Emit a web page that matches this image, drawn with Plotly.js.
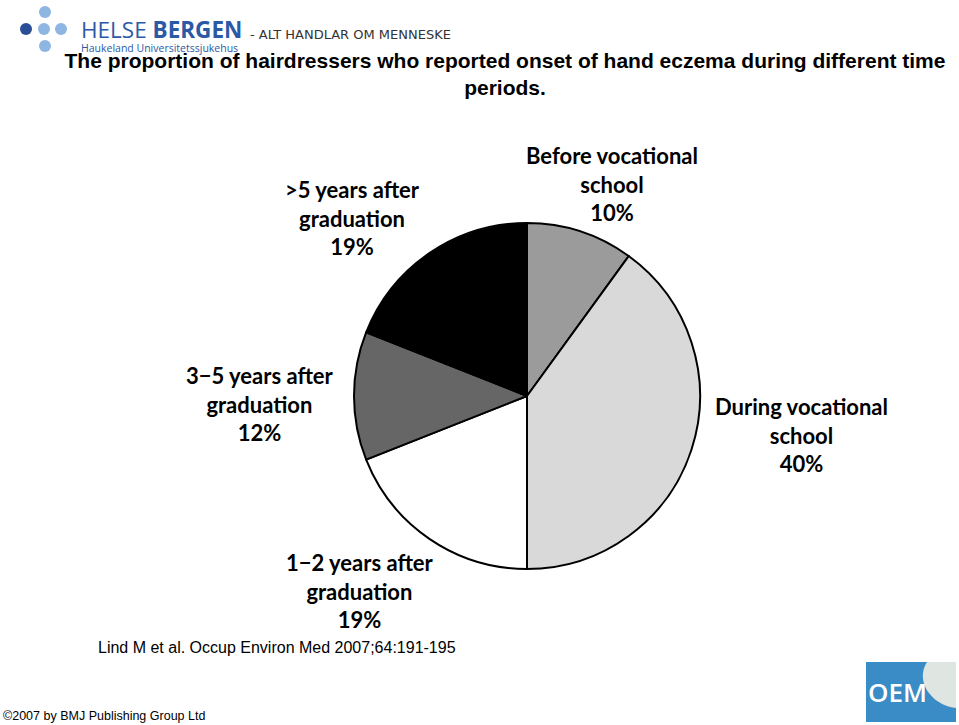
<!DOCTYPE html>
<html>
<head>
<meta charset="utf-8">
<script src="https://cdn.plot.ly/plotly-3.0.1.min.js"></script>
<style>html,body{margin:0;padding:0;background:#fff;}#chart{width:959px;height:725px;}</style>
</head>
<body>
<div id="chart"></div>
<script>
// ---- data ----
const categories = ["Before vocational school", "During vocational school", "1\u22122 years after graduation", "3\u22125 years after graduation", ">5 years after graduation"];
const labelLines = [["Before vocational", "school"], ["During vocational", "school"], ["1\u22122 years after", "graduation"], ["3\u22125 years after", "graduation"], [">5 years after", "graduation"]];
const values = [10, 40, 19, 12, 19];
const sliceColors = ["#9b9b9b", "#d9d9d9", "#ffffff", "#666666", "#000000"];
const titleText = "The proportion of hairdressers who reported onset of hand eczema during different time<br>periods.";
const citation = "Lind M et al. Occup Environ Med 2007;64:191-195";
const copyright = "\u00a92007 by BMJ Publishing Group Ltd";

// ---- layout helpers (pixel -> paper) ----
const W = 959, H = 725;
const px = x => x / W;
const py = y => 1 - y / H;

const labelPos = [[612, 184], [801, 435], [360, 591], [260, 404], [352, 218]];

const annotations = [];
categories.forEach((c, i) => {
  annotations.push({
    xref: "paper", yref: "paper", x: px(labelPos[i][0]), y: py(labelPos[i][1]),
    xanchor: "center", yanchor: "middle", showarrow: false, align: "center",
    text: labelLines[i].join("<br>") + "<br>" + values[i] + "%",
    font: {family: "Lato, 'Open Sans', sans-serif", size: 22, color: "#000", weight: "bold"}
  });
});
annotations.push({xref: "paper", yref: "paper", x: px(96), y: py(647), xanchor: "left", yanchor: "middle", showarrow: false,
  text: citation, font: {family: "'Liberation Sans', Arial, sans-serif", size: 16, color: "#000"}});
annotations.push({xref: "paper", yref: "paper", x: px(1), y: py(716), xanchor: "left", yanchor: "middle", showarrow: false,
  text: copyright, font: {family: "'Liberation Sans', Arial, sans-serif", size: 12.5, color: "#000"}});
// Helse Bergen logo text
annotations.push({xref: "paper", yref: "paper", x: px(79), y: py(29), xanchor: "left", yanchor: "middle", showarrow: false,
  text: "HELSE <b>BERGEN</b>", font: {family: "'Open Sans', sans-serif", size: 22.5, color: "#2b59a6"}});
annotations.push({xref: "paper", yref: "paper", x: px(79), y: py(48), xanchor: "left", yanchor: "middle", showarrow: false,
  text: "Haukeland Universitetssjukehus", font: {family: "'Open Sans', sans-serif", size: 10.5, color: "#2b59a6"}});
annotations.push({xref: "paper", yref: "paper", x: px(248), y: py(34), xanchor: "left", yanchor: "middle", showarrow: false,
  text: "- ALT HANDLAR OM MENNESKE", font: {family: "'DejaVu Sans', sans-serif", size: 13, color: "#333"}});
// OEM logo text
annotations.push({xref: "paper", yref: "paper", x: px(897), y: py(692), xanchor: "center", yanchor: "middle", showarrow: false,
  text: "OEM", font: {family: "'Open Sans', sans-serif", size: 26, color: "#fff", weight: 600}});

const dot = (cx, cy, r, col) => ({type: "circle", xref: "paper", yref: "paper", x0: px(cx - r), x1: px(cx + r), y0: py(cy + r), y1: py(cy - r), fillcolor: col, line: {width: 0}, layer: "above"});
const shapes = [
  dot(45, 12, 6, "#8db6e2"), dot(26, 29, 6, "#2a4d96"), dot(44, 29, 6, "#8db6e2"), dot(61, 29, 6, "#8db6e2"), dot(45, 46, 6, "#8db6e2"),
  {type: "rect", xref: "paper", yref: "paper", x0: px(866), x1: px(956), y0: py(722), y1: py(662), fillcolor: "#3a8cc6", line: {width: 0}},
  {type: "path", xref: "paper", yref: "paper",
   path: `M ${px(927)},${py(662)} C ${px(915)},${py(680)} ${px(930)},${py(705)} ${px(956)},${py(708)} L ${px(956)},${py(662)} Z`,
   fillcolor: "#dfe5e0", line: {width: 0}}
];

const trace = {
  type: "pie",
  labels: categories,
  values: values,
  sort: false,
  direction: "clockwise",
  rotation: 0,
  textinfo: "none",
  hoverinfo: "label+percent",
  marker: {colors: sliceColors, line: {color: "#000", width: 2}},
  domain: {x: [px(354), px(700)], y: [py(569), py(223)]},
  showlegend: false
};

const layout = {
  width: W, height: H,
  margin: {l: 0, r: 0, t: 0, b: 0},
  paper_bgcolor: "#fff",
  title: {text: titleText, x: px(505), xanchor: "center", y: py(68), yanchor: "middle", yref: "paper",
          font: {family: "'Liberation Sans', Arial, sans-serif", size: 21, color: "#000", weight: "bold"}},
  annotations: annotations,
  shapes: shapes,
  showlegend: false
};

Plotly.newPlot("chart", [trace], layout, {displayModeBar: false, staticPlot: true});
</script>
</body>
</html>
